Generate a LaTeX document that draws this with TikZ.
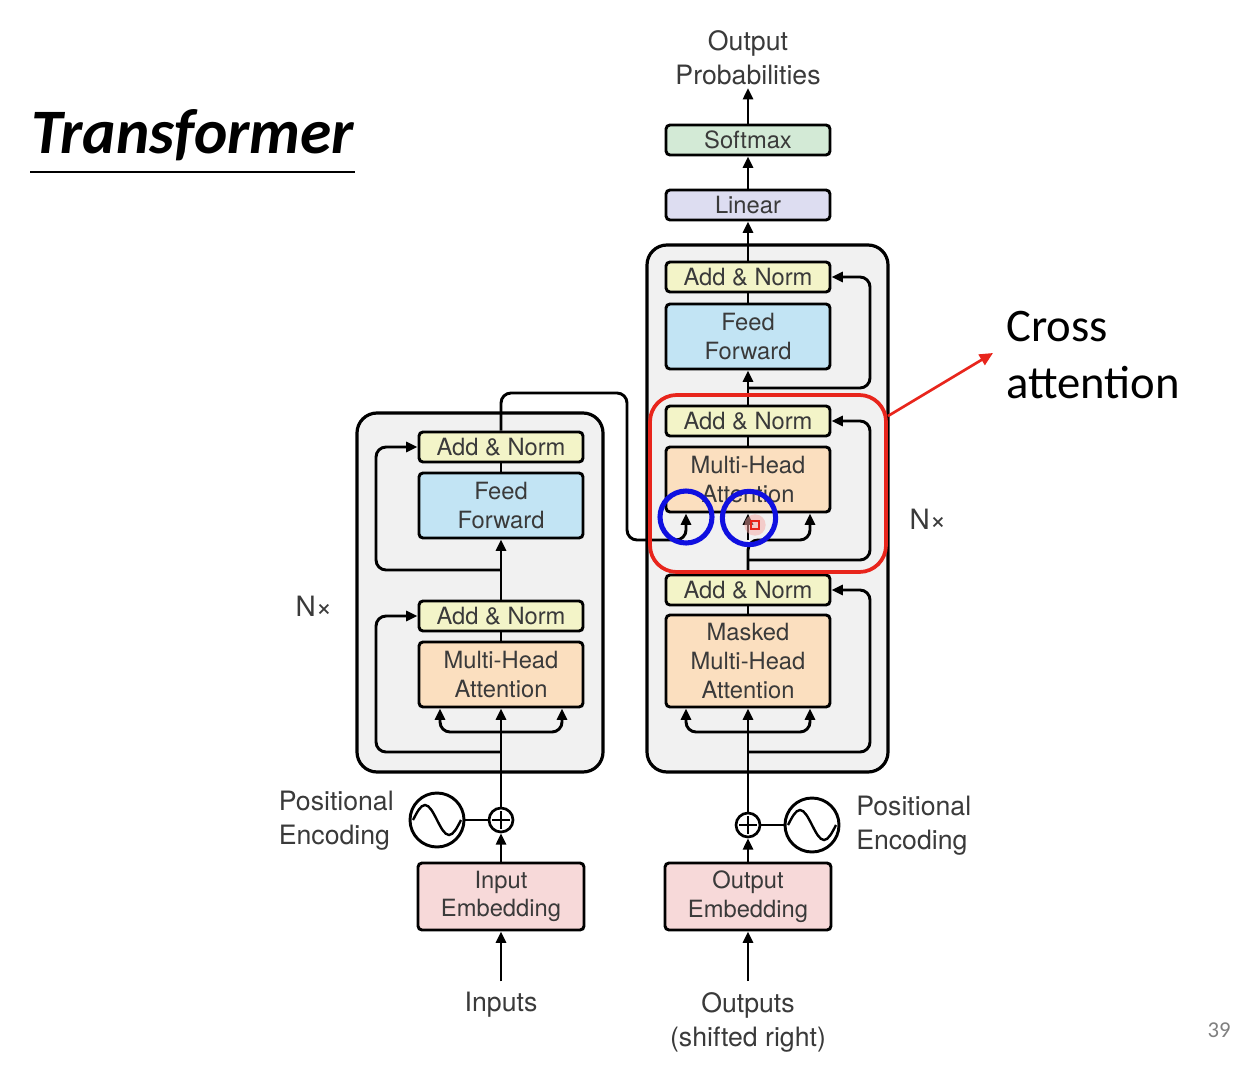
\documentclass[tikz,border=0pt]{standalone}
\usepackage{fontspec}
\setmainfont{TeX Gyre Heros}
\newfontfamily\calfont{Carlito}
\usetikzlibrary{arrows.meta}
\definecolor{txt}{HTML}{3A3A3A}
\definecolor{anfill}{HTML}{F3F4C8}
\definecolor{fffill}{HTML}{C2E4F4}
\definecolor{mhafill}{HTML}{FBDFBF}
\definecolor{smfill}{HTML}{D3EAD6}
\definecolor{linfill}{HTML}{DDDDF1}
\definecolor{embfill}{HTML}{F7D9D9}
\definecolor{boxgray}{HTML}{F1F1F1}
\definecolor{redc}{HTML}{E8251C}
\definecolor{bluec}{HTML}{1010E0}
\begin{document}
\begin{tikzpicture}[x=0.75pt,y=-0.75pt,
  blk/.style={draw=black, line width=2.2pt, rounded corners=3pt, align=center, text=txt,
    font=\fontsize{17.8}{21.5}\selectfont, inner sep=0pt, minimum width=123pt},
  an/.style={blk, fill=anfill, minimum height=22.5pt},
  ffb/.style={blk, fill=fffill, minimum height=48.75pt},
  mhab/.style={blk, fill=mhafill, minimum height=48.75pt},
  smb/.style={blk, fill=smfill, minimum height=22.5pt},
  linb/.style={blk, fill=linfill, minimum height=22.5pt},
  embb/.style={blk, fill=embfill, minimum height=50.25pt, minimum width=124.5pt},
  lbl/.style={text=txt, font=\fontsize{20}{25.5}\selectfont, inner sep=0pt},
  container/.style={draw=black, line width=2.4pt, fill=boxgray, rounded corners=15pt},
  conn/.style={line width=2.2pt, rounded corners=7.5pt},
  arr/.style={conn, -{Triangle[length=8.5pt,width=7.5pt]}},
  sinecirc/.style={circle, draw=black, line width=2.2pt, fill=white, minimum size=40.5pt, inner sep=0pt},
  pluscirc/.style={circle, draw=black, line width=2pt, fill=white, minimum size=18pt, inner sep=0pt},
  bluering/.style={draw=bluec, line width=3.8pt}
]
\useasboundingbox (0,0) rectangle (1244,1080);
\fill[white] (0,0) rectangle (1244,1080);

% title
\node[anchor=base west, inner sep=0pt, font=\calfont\bfseries\itshape\fontsize{47.5}{52}\selectfont] (title) at (31,154) {Transformer};
\draw[line width=1.5pt] (30,172) -- (355,172);

% containers
\draw[container] (357,413) rectangle (603,772);
\draw[container] (647,245) rectangle (888,772);

% encoder nodes
\node[an] (an1) at (501,447) {Add \& Norm};
\node[ffb] (ff1) at (501,505.5) {Feed\\Forward};
\node[an] (an2) at (501,616) {Add \& Norm};
\node[mhab] (mha1) at (501,674.5) {Multi-Head\\Attention};
\node[embb] (emb1) at (501,896.5) {Input\\Embedding};
\node[pluscirc] (plus1) at (501,820) {};
\node[sinecirc] (sine1) at (437,820) {};

% decoder nodes
\node[smb] (softmax) at (748,140) {Softmax};
\node[linb] (linear) at (748,205) {Linear};
\node[an] (dan1) at (748,277) {Add \& Norm};
\node[ffb] (dff) at (748,336.5) {Feed\\Forward};
\node[an] (dan2) at (748,421) {Add \& Norm};
\node[mhab] (dmha) at (748,479.5) {Multi-Head\\Attention};
\node[an] (dan3) at (748,590) {Add \& Norm};
\node[mhab, minimum height=69pt] (mmha) at (748,661) {Masked\\Multi-Head\\Attention};
\node[embb] (emb2) at (748,896.5) {Output\\Embedding};
\node[pluscirc] (plus2) at (748,825) {};
\node[sinecirc] (sine2) at (812,825) {};

% plus signs and sine waves
\draw[line width=1.6pt] ([xshift=-6.5pt]plus1.center) -- ([xshift=6.5pt]plus1.center) ([yshift=-6.5pt]plus1.center) -- ([yshift=6.5pt]plus1.center);
\draw[line width=1.6pt] ([xshift=-6.5pt]plus2.center) -- ([xshift=6.5pt]plus2.center) ([yshift=-6.5pt]plus2.center) -- ([yshift=6.5pt]plus2.center);
\draw[line width=1.8pt] (413,820) sin (425,805) cos (437,820) sin (449,835) cos (461,820);
\draw[line width=1.8pt] (788,825) sin (800,810) cos (812,825) sin (824,840) cos (836,825);

% labels
\node[lbl, align=center] (outprob) at (748,58) {Output\\Probabilities};
\node[lbl, inner sep=8pt] (inputs) at (501,1005) {Inputs};
\node[lbl, align=center, inner sep=8pt] (outputs) at (748,1022) {Outputs\\(shifted right)};
\node[lbl, align=left, anchor=east] (pe1) at (394,821) {Positional\\Encoding};
\node[lbl, align=left, anchor=west] (pe2) at (856,826) {Positional\\Encoding};
\node[lbl, font=\fontsize{21}{25}\selectfont] (nx1) at (314,606) {N×};
\node[lbl, font=\fontsize{21}{25}\selectfont] (nx2) at (928,519) {N×};

% encoder connectors
\draw[arr] (inputs.north) -- (emb1.south);
\draw[arr] (emb1.north) -- (plus1.south);
\draw[conn] (sine1.east) -- (plus1.west);
\draw[arr] (plus1.north) -- (mha1.south);
\draw[arr] (501,732) -| ([xshift=-45.75pt]mha1.south);
\draw[arr] (501,732) -| ([xshift=45.75pt]mha1.south);
\draw[arr] (501,752) -- (376,752) -- (376,616) -- (an2.west);
\draw[conn] (mha1.north) -- (an2.south);
\draw[arr] (an2.north) -- (ff1.south);
\draw[arr] (501,570) -- (376,570) -- (376,447) -- (an1.west);
\draw[conn] (ff1.north) -- (an1.south);

% decoder connectors
\draw[arr] (outputs.north) -- (emb2.south);
\draw[arr] (emb2.north) -- (plus2.south);
\draw[conn] (sine2.west) -- (plus2.east);
\draw[arr] (plus2.north) -- (mmha.south);
\draw[arr] (748,732) -| ([xshift=-46.5pt]mmha.south);
\draw[arr] (748,732) -| ([xshift=46.5pt]mmha.south);
\draw[arr] (748,752) -- (870,752) -- (870,590) -- (dan3.east);
\draw[conn] (mmha.north) -- (dan3.south);
% cross attention inputs
\draw[arr] (an1.north) -- (501,393) -- (627,393) -- (627,540) -| ([xshift=-46.5pt]dmha.south);
\coordinate (kv) at (748,540);
\draw[arr] (kv) -- (dmha.south);
\draw[arr] (dan3.north) -- (748,540) -| ([xshift=46.5pt]dmha.south);
\draw[arr] (748,560) -- (870,560) -- (870,421) -- (dan2.east);
\draw[conn] (dmha.north) -- (dan2.south);
\draw[arr] (dan2.north) -- (dff.south);
\draw[arr] (748,388) -- (870,388) -- (870,277) -- (dan1.east);
\draw[conn] (dff.north) -- (dan1.south);
\draw[arr] (dan1.north) -- (linear.south);
\draw[arr] (linear.north) -- (softmax.south);
\draw[arr] (softmax.north) -- ([yshift=-2pt]outprob.south);

% annotations
\draw[redc, line width=2.8pt, rounded corners=20pt] (650,395) rectangle (886,572);
\draw[redc, line width=2pt, -{Triangle[length=10pt,width=9pt]}] (888,416) -- (993,353);
\node[anchor=north west, align=left, inner sep=0pt, font=\calfont\fontsize{35}{42.75}\selectfont] (cross) at (1006,311) {Cross\\attention};
\draw[bluering] (686,517) circle[radius=19.5pt];
\draw[bluering] (749,518) circle[radius=20pt];
\fill[redc!40, opacity=0.5] (755,525) circle[radius=8pt];
\draw[redc, line width=1.5pt] (751,521) rectangle (759,529);

\node[text=gray, font=\calfont\fontsize{17}{20}\selectfont] (pagenum) at (1219,1030) {39};
\end{tikzpicture}
\end{document}
